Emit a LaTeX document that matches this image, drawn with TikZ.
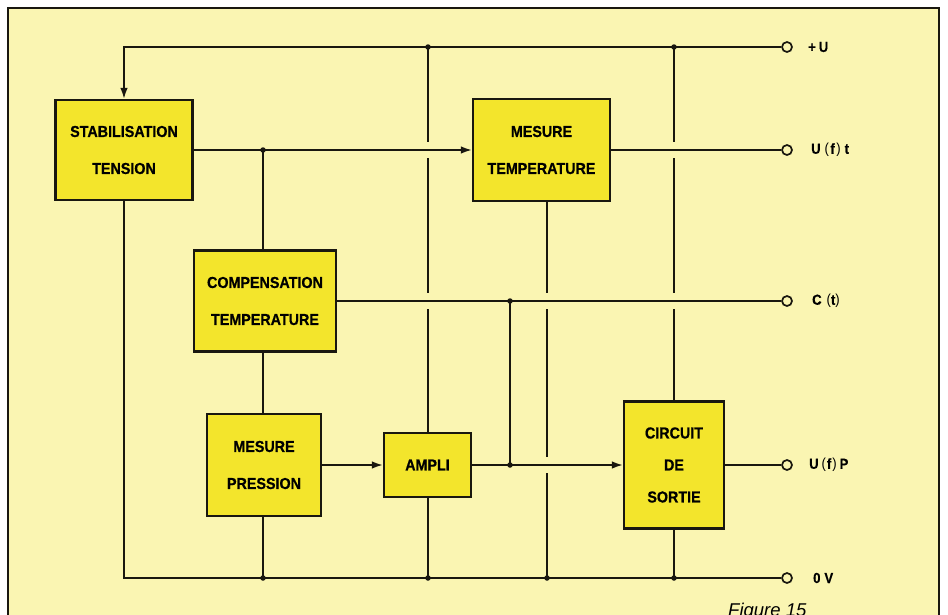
\documentclass[tikz,border=0pt]{standalone}
\usepackage{fontspec}
\setmainfont{Liberation Sans}
\newfontfamily\blockfont{Liberation Sans}[FakeStretch=0.9, BoldFeatures={FakeBold=0.6}]
\usetikzlibrary{arrows.meta}
\definecolor{paper}{RGB}{250,245,178}
\definecolor{boxfill}{RGB}{243,229,44}
\definecolor{ink}{RGB}{25,23,15}
\begin{document}
\begin{tikzpicture}[x=1pt,y=-1pt,
  block/.style={draw=ink, line width=2.2pt, fill=boxfill, align=center, inner sep=0pt,
    font=\blockfont\bfseries\fontsize{15.9}{37}\selectfont},
  wire/.style={draw=ink, line width=1.7pt},
  sig/.style={wire, -{Latex[length=11pt,width=7.5pt]}},
  jdot/.style={circle, fill=ink, inner sep=0pt, minimum size=5.5pt},
  term/.style={circle, draw=ink, line width=1.7pt, fill=paper, inner sep=0pt, minimum size=10pt},
  tlabel/.style={anchor=west, inner sep=0pt, font=\blockfont\bfseries\fontsize{14.5}{16}\selectfont}
]
\useasboundingbox (0,0) rectangle (948,614);
\fill[white] (0,0) rectangle (948,614);
\path[fill=paper, draw=ink, line width=2pt] (8,8) rectangle (939,660);

% blocks
\node[block, minimum width=137pt, minimum height=100pt] (stab) at (124,150) {STABILISATION\\TENSION};
\node[block, minimum width=137pt, minimum height=102pt] (mt) at (541.5,150) {MESURE\\TEMPERATURE};
\node[block, minimum width=142pt, minimum height=101pt] (comp) at (265,301) {COMPENSATION\\TEMPERATURE};
\node[block, minimum width=114pt, minimum height=102pt] (mp) at (264,465) {MESURE\\PRESSION};
\node[block, minimum width=87pt, minimum height=64pt] (ampli) at (427.5,465) {AMPLI};
\node[block, minimum width=100pt, minimum height=127pt,
  font=\blockfont\bfseries\fontsize{15.9}{32}\selectfont] (cds) at (674,465) {CIRCUIT\\DE\\SORTIE};

% terminals
\node[term] (tU) at (787,47) {};
\node[term] (tUt) at (787,150) {};
\node[term] (tC) at (787,301) {};
\node[term] (tP) at (787,465) {};
\node[term] (t0) at (787,578) {};
\node[tlabel] (lU) at (808,47) {+\hspace{3pt}U};
\node[tlabel] (lUt) at (811,150) {U\hspace{4pt}{\mdseries(}\hspace{1.5pt}f\hspace{1.5pt}{\mdseries)}\hspace{4pt}t};
\node[tlabel] (lC) at (812,301) {C\hspace{5pt}{\mdseries(}t{\mdseries)}};
\node[tlabel] (lP) at (809,465) {U\hspace{3pt}{\mdseries(}\hspace{1pt}f\hspace{1pt}{\mdseries)}\hspace{3pt}P};
\node[tlabel] (l0) at (813,578) {0\hspace{4pt}V};

% junction coordinates
\coordinate (j1) at (428,47);
\coordinate (j2) at (674,47);
\coordinate (j3) at (263,150);
\coordinate (j4) at (510,301);
\coordinate (j5) at (510,465);
\coordinate (b1) at (263,578);
\coordinate (b2) at (428,578);
\coordinate (b3) at (547,578);
\coordinate (b4) at (674,578);

% buses
\draw[sig] (tU.west) -| (stab.north);
\draw[wire] (stab.south) |- (t0.west);

% signal lines
\draw[sig] (stab.east) -- (mt.west);
\draw[wire] (mt.east) -- (tUt.west);
\draw[wire] (comp.east) -- (tC.west);
\draw[sig] (mp.east) -- (ampli.west);
\draw[sig] (ampli.east) -- (cds.west);
\draw[wire] (cds.east) -- (tP.west);

% verticals
\draw[wire] (j3) -- (j3 |- comp.north);
\draw[wire] (j3 |- comp.south) -- (j3 |- mp.north);
\draw[wire] (j3 |- mp.south) -- (b1);
\draw[wire] (j1) -- (428,142) (428,158) -- (428,293) (428,309) -- (j1 |- ampli.north);
\draw[wire] (j1 |- ampli.south) -- (b2);
\draw[wire] (b3 |- mt.south) -- (547,293) (547,309) -- (547,457) (547,473) -- (b3);
\draw[wire] (j2) -- (674,142) (674,158) -- (674,293) (674,309) -- (cds.north);
\draw[wire] (cds.south) -- (b4);
\draw[wire] (j4) -- (j5);

% junction dots
\foreach \p in {j1,j2,j3,j4,j5,b1,b2,b3,b4}
  \node[jdot] at (\p) {};

\node[anchor=base west, inner sep=0pt, font=\itshape\fontsize{18.5}{20}\selectfont] (fig) at (728,616) {Figure 15};
\end{tikzpicture}
\end{document}
